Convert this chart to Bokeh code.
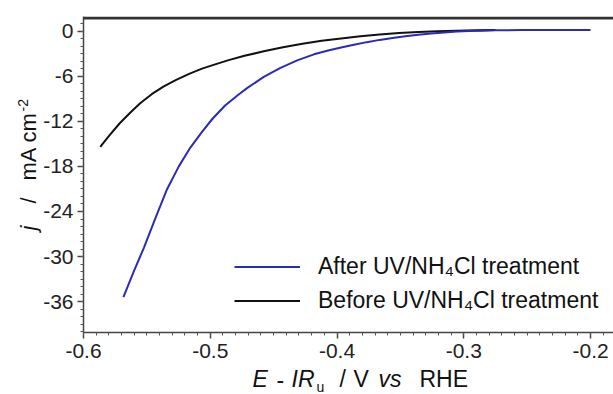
from bokeh.plotting import figure
from bokeh.models import (Range1d, FixedTicker, Label, Legend, LegendItem, Span)
from bokeh.embed import file_html
from bokeh.resources import INLINE

# ---- data ----
after_x = [-0.5685, -0.5604, -0.5523, -0.5431, -0.5340, -0.5248, -0.5157, -0.5065,
           -0.4984, -0.4883, -0.4781, -0.4710, -0.4578, -0.4446, -0.4314, -0.4182,
           -0.4070, -0.3968, -0.3867, -0.3765, -0.3664, -0.3562, -0.3461, -0.3359,
           -0.3257, -0.3156, -0.3054, -0.2953, -0.2851, -0.2750, -0.2546, -0.2343,
           -0.2000]
after_y = [-35.4, -32.0, -28.8, -24.8, -21.0, -18.0, -15.5, -13.4,
           -11.7, -9.9, -8.5, -7.6, -6.1, -4.9, -3.9, -3.1,
           -2.6, -2.2, -1.82, -1.48, -1.18, -0.92, -0.70, -0.50,
           -0.34, -0.20, -0.08, 0.0, 0.05, 0.09, 0.13, 0.15,
           0.15]

before_x = [-0.5868, -0.5797, -0.5716, -0.5634, -0.5553, -0.5462, -0.5370, -0.5269,
            -0.5167, -0.5065, -0.4974, -0.4862, -0.4730, -0.4578, -0.4426, -0.4273,
            -0.4121, -0.3968, -0.3816, -0.3664, -0.3511, -0.3359, -0.3207, -0.3054,
            -0.2902, -0.2750]
before_y = [-15.4, -13.9, -12.3, -10.9, -9.6, -8.4, -7.4, -6.5,
            -5.7, -5.0, -4.5, -3.9, -3.3, -2.7, -2.15, -1.7,
            -1.3, -0.98, -0.70, -0.47, -0.28, -0.13, -0.02, 0.05,
            0.10, 0.12]

x_ticks = [-0.6, -0.5, -0.4, -0.3, -0.2]
x_tick_labels = ["-0.6", "-0.5", "-0.4", "-0.3", "-0.2"]
y_ticks = [0, -6, -12, -18, -24, -30, -36]
y_tick_labels = ["0", "-6", "-12", "-18", "-24", "-30", "-36"]
series_names = ["After UV/NH\u2084Cl treatment", "Before UV/NH\u2084Cl treatment"]

FONT = "Liberation Sans"
X0, X1 = -0.6, -0.1819
Y0, Y1 = -40.09, 1.93
EXTRA = 400  # off-screen side panel that hosts the axis-title pieces

p = figure(width=613 + EXTRA, height=394, output_backend="svg", toolbar_location=None,
           x_range=Range1d(X0, X1), y_range=Range1d(Y0, Y1),
           min_border_left=83, min_border_right=EXTRA, min_border_top=16,
           min_border_bottom=62)
p.outline_line_color = None
p.grid.visible = False
p.background_fill_color = "white"

ln_before = p.line(before_x, before_y, line_color="#111111", line_width=2)
ln_after = p.line(after_x, after_y, line_color="#2b2bb5", line_width=2)

# top border line
p.add_layout(Span(location=Y1 - 0.2, dimension="width", line_color="#333333",
                  line_width=3))

# axes
xa = p.xaxis[0]
xa.ticker = FixedTicker(ticks=x_ticks,
                        minor_ticks=[round(-0.6 + 0.01 * i, 3) for i in range(42)])
xa.major_label_overrides = {t: l for t, l in zip(x_ticks, x_tick_labels)}
ya = p.yaxis[0]
ya.ticker = FixedTicker(ticks=y_ticks, minor_ticks=list(range(-40, 2)))
ya.major_label_overrides = {t: l for t, l in zip(y_ticks, y_tick_labels)}

for ax in (xa, ya):
    ax.axis_line_color = "#444444"
    ax.axis_line_width = 1.5
    ax.major_tick_line_color = "#444444"
    ax.major_tick_line_width = 1.5
    ax.major_tick_out = 6
    ax.major_tick_in = 0
    ax.minor_tick_line_color = "#555555"
    ax.minor_tick_line_width = 1
    ax.minor_tick_out = 3
    ax.minor_tick_in = 0
    ax.major_label_text_font = FONT
    ax.major_label_text_font_size = "21px"
    ax.major_label_text_color = "#222222"
    ax.major_label_standoff = 4
xa.major_label_standoff = 5

# legend
legend = Legend(items=[LegendItem(label=series_names[0], renderers=[ln_after]),
                       LegendItem(label=series_names[1], renderers=[ln_before])],
                location=(151, 18), orientation="vertical",
                padding=0, margin=0, spacing=7,
                glyph_width=66, glyph_height=21, label_height=21,
                label_standoff=18, border_line_color=None,
                background_fill_alpha=0,
                label_text_font=FONT, label_text_font_size="23px",
                label_text_color="#111111")
p.add_layout(legend, "center")

# axis titles built from styled pieces; they live in the off-screen right
# panel (so they are not clipped to the frame) and are positioned in data units
frame_w = 613 - 83
frame_h = 394 - 16 - 62


def dx(px):  # page x pixel -> data x
    return X0 + (px - 83) * (X1 - X0) / frame_w


def dy(py):  # page y pixel -> data y
    return Y1 - (py - 16) * (Y1 - Y0) / frame_h


def lab(text, px, py, size=23, style="normal", angle=0):
    # (px, py) is the start of the text baseline; anchor on the text middle
    shift = 0.35 * size
    if angle:
        px -= shift
    else:
        py -= shift
    p.add_layout(Label(x=dx(px), y=dy(py), text=text,
                       text_font=FONT, text_font_size=f"{size}px",
                       text_font_style=style, text_color="#111111",
                       angle=angle, angle_units="deg",
                       text_align="left", text_baseline="middle"), "right")


# y title: j / mA cm^-2
lab("j", 36, 230, 22, "italic", 90)
lab("/", 36, 203, 22, "normal", 90)
lab("mA cm", 36, 180, 22, "normal", 90)
lab("-2", 27, 111, 14, "normal", 90)

# x title: E - IRu / V vs RHE
lab("E", 252, 387, 23, "italic")
lab("-", 276, 387, 23)
lab("IR", 291, 387, 23, "italic")
lab("u", 316, 391, 14)
lab("/", 339, 387, 23)
lab("V", 353, 387, 23)
lab("vs", 378, 387, 23, "italic")
lab("RHE", 419, 387, 23)

open("out.html", "w").write(file_html(p, INLINE))
